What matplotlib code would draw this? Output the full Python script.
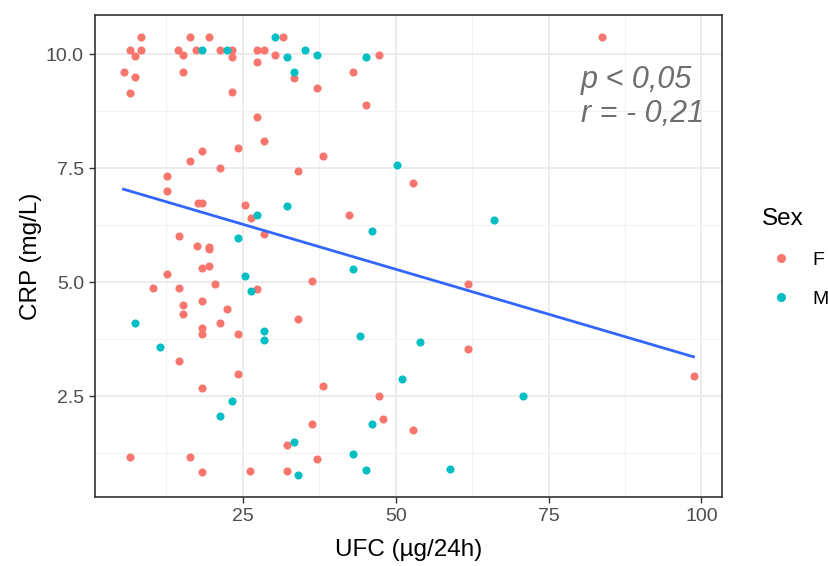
import numpy as np
import matplotlib
matplotlib.use("Agg")
import matplotlib.pyplot as plt
from matplotlib.lines import Line2D

# UFC (x) and CRP (y), female
f_ufc = [8.4, 6.6, 8.4, 7.4, 5.5, 7.4, 6.6,
         16.4, 19.4, 14.4, 15.3, 17.4, 21.3, 23.3, 23.2, 15.3, 23.2,
         27.3, 28.4, 27.3, 31.5, 30.3, 33.3,
         27.3, 28.4, 24.3, 18.3, 16.4, 21.3, 34.1, 12.6, 12.6,
         47.2, 43.1, 37.2, 45.1, 38.2, 52.9, 83.7,
         17.7, 18.4, 25.4, 26.3, 28.4, 14.5, 17.5, 19.5, 19.5, 18.3, 19.5,
         12.6, 36.3, 10.4, 14.5, 20.5, 27.3, 15.3, 18.3, 15.3, 22.4, 21.3,
         34.1, 18.3, 18.3, 24.3,
         42.3, 61.9, 61.9,
         14.5, 24.3, 18.3, 36.3, 32.2, 6.6, 16.4, 18.3, 26.2, 32.2,
         38.2, 47.2, 48.0, 52.9, 37.2, 98.7]
f_crp = [10.38, 10.09, 10.09, 9.97, 9.62, 9.51, 9.14,
         10.38, 10.38, 10.09, 9.98, 10.09, 10.09, 10.09, 9.94, 9.62, 9.18,
         10.09, 10.09, 9.84, 10.38, 9.98, 9.47,
         8.63, 8.09, 7.94, 7.87, 7.65, 7.51, 7.43, 7.32, 7.00,
         9.98, 9.62, 9.25, 8.89, 7.76, 7.17, 10.38,
         6.74, 6.74, 6.70, 6.41, 6.05, 6.01, 5.79, 5.78, 5.72, 5.32, 5.35,
         5.17, 5.02, 4.88, 4.88, 4.95, 4.85, 4.51, 4.59, 4.30, 4.41, 4.11,
         4.19, 3.99, 3.87, 3.86,
         6.48, 4.96, 3.54,
         3.27, 2.98, 2.69, 1.89, 1.42, 1.17, 1.17, 0.83, 0.87, 0.87,
         2.73, 2.51, 2.00, 1.75, 1.13, 2.95]

# male
m_ufc = [18.3, 22.5, 30.3, 32.2, 35.2, 33.3, 37.2, 45.1, 50.2,
         32.2, 27.3, 24.3, 25.4, 26.3, 7.4, 28.4, 28.4, 11.5,
         66.0, 46.1, 43.1, 44.2, 54.0,
         23.2, 21.3, 33.3, 34.1,
         51.0, 46.1, 43.1, 45.1, 58.9, 70.9]
m_crp = [10.09, 10.09, 10.38, 9.95, 10.09, 9.62, 9.98, 9.95, 7.58,
         6.67, 6.48, 5.97, 5.13, 4.80, 4.11, 3.93, 3.74, 3.57,
         6.37, 6.12, 5.28, 3.83, 3.69,
         2.40, 2.07, 1.49, 0.77,
         2.87, 1.89, 1.24, 0.88, 0.91, 2.51]

x_ticks = [25, 50, 75, 100]
y_ticks = [2.5, 5.0, 7.5, 10.0]
annot = "p < 0,05\nr = - 0,21"

col_f = "#F8766D"
col_m = "#00BFC4"

plt.rcParams["font.family"] = ["Liberation Sans", "DejaVu Sans"]

fig = plt.figure(figsize=(8.29, 5.66), dpi=100)
ax = fig.add_axes([95 / 829, 1 - 497 / 566, (722 - 95) / 829, (497 - 15) / 566])

all_x = np.array(f_ufc + m_ufc)
all_y = np.array(f_crp + m_crp)
dx = all_x.max() - all_x.min()
dy = all_y.max() - all_y.min()
ax.set_xlim(all_x.min() - 0.05 * dx, all_x.max() + 0.05 * dx)
ax.set_ylim(all_y.min() - 0.05 * dy, all_y.max() + 0.05 * dy)

# grid (theme_bw)
ax.set_xticks(x_ticks)
ax.set_yticks(y_ticks)
ax.set_xticks([12.5, 37.5, 62.5, 87.5], minor=True)
ax.set_yticks([1.25, 3.75, 6.25, 8.75], minor=True)
ax.grid(True, which="major", color="#EBEBEB", lw=1.3, zorder=0)
ax.grid(True, which="minor", color="#F2F2F2", lw=0.8, zorder=0)
ax.set_axisbelow(True)
ax.tick_params(which="minor", length=0)
ax.tick_params(which="major", length=4, width=1, color="#333333",
               labelsize=14, labelcolor="#4D4D4D", pad=4)
ax.set_yticklabels([f"{v:.1f}" for v in y_ticks])
for s in ax.spines.values():
    s.set_color("#333333")
    s.set_linewidth(1.2)

ax.scatter(f_ufc, f_crp, s=34, color=col_f, lw=0, zorder=3)
ax.scatter(m_ufc, m_crp, s=34, color=col_m, lw=0, zorder=3)

# linear fit over all points (geom_smooth lm, no se)
slope, inter = np.polyfit(all_x, all_y, 1)
xs = np.linspace(all_x.min(), all_x.max(), 80)
ax.plot(xs, inter + slope * xs, color="#3366FF", lw=2.0, zorder=4)

ax.text(0.775, 0.83, annot, transform=ax.transAxes, fontsize=22,
        style="italic", color="#6E6E6E", ha="left", va="center",
        linespacing=1.15)

ax.set_xlabel("UFC (\u00b5g/24h)", fontsize=17.5, labelpad=10)
ax.set_ylabel("CRP (mg/L)", fontsize=17.5, labelpad=3)

handles = [Line2D([], [], marker="o", ls="", color=col_f, markersize=6.5, mew=0),
           Line2D([], [], marker="o", ls="", color=col_m, markersize=6.5, mew=0)]
leg = fig.legend(handles, ["F", "M"], title="Sex", loc="center left",
                 bbox_to_anchor=(744 / 829, 1 - 258 / 566), frameon=False,
                 fontsize=14, title_fontsize=17.5, handletextpad=0.6,
                 labelspacing=1.1, handlelength=2.0)
leg._legend_box.align = "left"

fig.savefig("out.png", dpi=100)
